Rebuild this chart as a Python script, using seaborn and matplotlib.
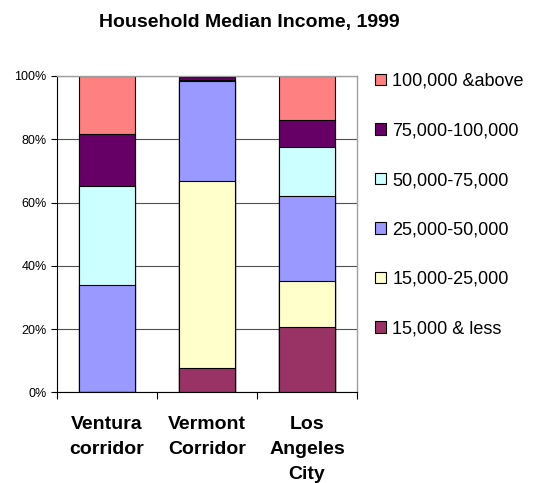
import numpy as np
import pandas as pd
import matplotlib
matplotlib.use("Agg")
import matplotlib.pyplot as plt
from matplotlib.patches import Patch
import seaborn as sns

# percent share of households by income band, bottom band first
areas = ["Ventura\ncorridor", "Vermont\nCorridor", "Los\nAngeles\nCity"]
bands = ["15,000 & less", "15,000-25,000", "25,000-50,000",
         "50,000-75,000", "75,000-100,000", "100,000 &above"]
less_15k = [0.0, 7.6, 20.8]
k15_25 = [0.0, 59.2, 14.4]
k25_50 = [34.0, 31.5, 27.0]
k50_75 = [31.3, 0.5, 15.5]
k75_100 = [16.5, 0.9, 8.4]
above_100k = [18.2, 0.3, 13.9]
colors = ["#993366", "#FFFFCC", "#9999FF", "#CCFFFF", "#660066", "#FF8080"]

df = pd.DataFrame(
    np.array([less_15k, k15_25, k25_50, k50_75, k75_100, above_100k]).T,
    index=areas, columns=bands,
)
shares = df.div(df.sum(axis=1), axis=0) * 100
cum = shares.cumsum(axis=1)

sns.set_theme(style="white")
plt.rcParams["font.family"] = ["Liberation Sans", "DejaVu Sans"]
plt.rcParams["text.color"] = "black"
plt.rcParams["xtick.color"] = "black"
plt.rcParams["ytick.color"] = "black"

fig = plt.figure(figsize=(5.37, 4.83), dpi=100)
ax = fig.add_axes([56.5 / 537, 1 - 392.3 / 483, 300.5 / 537, 316.3 / 483])

ax.set_axisbelow(True)
ax.grid(axis="y", color="#505050", linewidth=0.8)

# stacked by overlaying cumulative bars, top band first
for band, col in zip(bands[::-1], colors[::-1]):
    sns.barplot(x=cum.index, y=cum[band].values, color=col, saturation=1,
                width=0.56, edgecolor="black", linewidth=0.8, ax=ax)

ax.set_xlim(-0.5, 2.5)
ax.set_ylim(0, 100)
ax.set_yticks(range(0, 101, 20))
ax.set_yticklabels([f"{v}%" for v in range(0, 101, 20)], fontsize=9)
ax.tick_params(axis="y", length=4, width=0.8, color="black", pad=3, left=True)

ax.set_xticks([-0.5, 0.5, 1.5, 2.5])
ax.set_xticklabels([])
ax.set_xticks([0, 1, 2], minor=True)
ax.set_xticklabels(areas, minor=True, fontsize=14, fontweight="bold",
                   linespacing=1.6)
ax.tick_params(axis="x", which="major", length=5, width=0.8, color="black",
               bottom=True)
ax.tick_params(axis="x", which="minor", length=0, pad=17)
ax.set_xlabel("")
ax.set_ylabel("")

for s in ["left", "bottom"]:
    ax.spines[s].set_color("black")
    ax.spines[s].set_linewidth(0.8)
for s in ["top", "right"]:
    ax.spines[s].set_color("#a0a0a0")
    ax.spines[s].set_linewidth(1.0)

handles = [Patch(facecolor=c, edgecolor="black", linewidth=0.8, label=b)
           for b, c in zip(bands[::-1], colors[::-1])]
fig.legend(handles=handles, loc="upper left",
           bbox_to_anchor=(375 / 537, 1 - 73 / 483), frameon=False,
           fontsize=13, handlelength=0.6, handleheight=0.6,
           handletextpad=0.35, labelspacing=1.8, borderpad=0,
           borderaxespad=0)

fig.text(249 / 537, 1 - 27 / 483, "Household Median Income, 1999",
         ha="center", va="baseline", fontsize=14, fontweight="bold")

fig.savefig("out.png", dpi=100)
